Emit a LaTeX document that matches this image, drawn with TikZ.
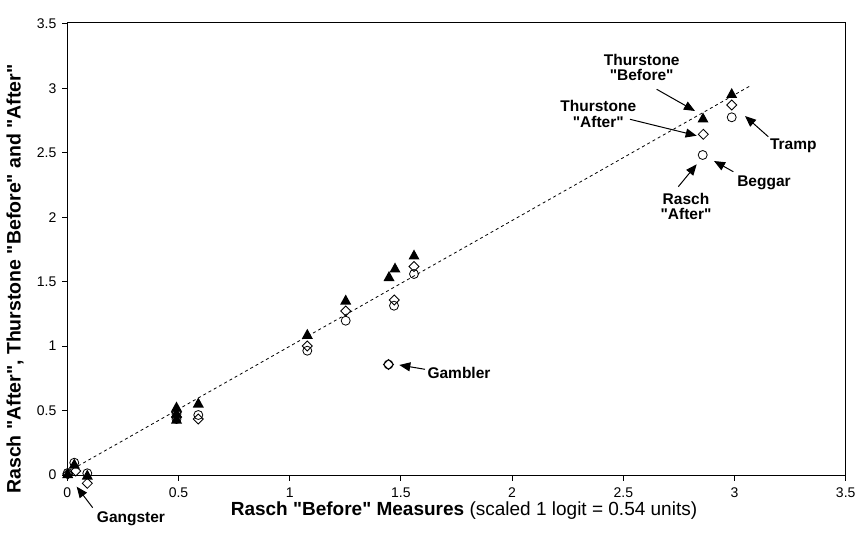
\documentclass[tikz,border=0pt]{standalone}
\usepackage{fontspec}
\newfontfamily\arial{Liberation Sans}
\usetikzlibrary{arrows.meta}
\tikzset{
  frame/.style={line width=1pt},
  tickline/.style={line width=1pt},
  ticklab/.style={inner sep=0pt,font=\arial\fontsize{14}{16}\selectfont},
  annot/.style={inner sep=0pt,align=center,font=\arial\fontsize{15.5}{15.5}\selectfont\bfseries},
  pointer/.style={line width=1pt,-{Triangle[length=11pt,width=9pt]}},
  trend/.style={line width=0.8pt,dash pattern=on 3pt off 3pt},
  tri/.pic={\fill[black] (0,-5.5) -- (5.5,4.5) -- (-5.5,4.5) -- cycle;},
  dia/.pic={\draw[line width=0.8pt] (0,-5) -- (5,0) -- (0,5) -- (-5,0) -- cycle;},
  circ/.pic={\draw[line width=0.8pt] (0,0) circle (4.5pt);}
}
\begin{document}
\begin{tikzpicture}[x=1pt,y=-1pt]
\useasboundingbox (0,0) rectangle (857,540);
% frame
\draw[frame] (67.3,23) rectangle (845.5,475);
% ticks and labels
\foreach \v/\t in {0/0,0.5/0.5,1/1,1.5/1.5,2/2,2.5/2.5,3/3,3.5/3.5}{
  \pgfmathsetmacro{\py}{475-\v*128.9}
  \pgfmathsetmacro{\px}{67.3+\v*222.4}
  \draw[tickline] (62,\py) -- (67.3,\py);
  \draw[tickline] (\px,475) -- (\px,480.5);
  \node[ticklab,anchor=east] (yl\t) at (56.5,\py) {\t};
  \node[ticklab] (xl\t) at (\px,493) {\t};
}
% axis titles
\node[inner sep=0pt,anchor=base,font=\arial\fontsize{19}{19}\selectfont] (xtitle) at (464,515)
  {\textbf{Rasch "Before" Measures} (scaled 1 logit = 0.54 units)};
\node[inner sep=0pt,anchor=base,rotate=90,font=\arial\fontsize{19.5}{19.5}\selectfont\bfseries] (ytitle) at (20.5,279)
  {Rasch "After", Thurstone "Before" and "After"};
% trend line
\coordinate (t0) at (78,466);
\coordinate (t1) at (750,86);
\draw[trend] (t0) -- (t1);
% Thurstone "Before" (filled triangles)
\foreach \p in {(67.7,473.5),(74.3,464),(87.3,475),(176.5,407),(176.5,413),(176.5,419),
  (198.3,403),(307.3,334.3),(345.7,300),(389,276.5),(395,268),(414,255),(703,118),(731.7,93.5)}
  \pic at \p {tri};
% Thurstone "After" (diamonds)
\foreach \p in {(67.7,474),(75.7,471),(87.3,483.3),(176.5,412),(176.5,417),(198.3,419),
  (307.3,346),(345.7,311),(394.3,300),(414,266.5),(388.5,364.5),(703.3,134.3),(731.7,105)}
  \pic at \p {dia};
% Rasch "After" (circles)
\foreach \p in {(67.7,473),(74.3,462.7),(87.3,473.3),(176.5,414),(176.5,419),(198.3,415),
  (307.3,350.7),(345.7,320.7),(394,305.7),(414,274),(388.5,364.5),(702.7,155),(731.7,117.3)}
  \pic at \p {circ};
% annotations
\node[annot] (thb) at (641.7,67.5) {Thurstone\\"Before"};
\node[annot] (tha) at (598.3,114) {Thurstone\\"After"};
\node[annot] (tramp) at (793.3,146) {Tramp};
\node[annot] (beggar) at (764,183.3) {Beggar};
\node[annot] (rascha) at (686,206.7) {Rasch\\"After"};
\node[annot] (gambler) at (459,373) {Gambler};
\node[annot] (gangster) at (131,519) {Gangster};
% arrow ends
\coordinate (thbS) at (656.7,89.3);   \coordinate (thbE) at (695,111);
\coordinate (thaS) at (630,119.3);    \coordinate (thaE) at (696.7,135.7);
\coordinate (trS) at (768.3,136.7);   \coordinate (trE) at (745,116);
\coordinate (beS) at (733.3,171.7);   \coordinate (beE) at (714,161);
\coordinate (raS) at (678.3,186.7);   \coordinate (raE) at (696.7,164.3);
\coordinate (gaS) at (425,369.3);     \coordinate (gaE) at (399.3,365);
\coordinate (gnS) at (92.7,507.7);    \coordinate (gnE) at (76.7,486.7);
\draw[pointer] (thbS) -- (thbE);
\draw[pointer] (thaS) -- (thaE);
\draw[pointer] (trS) -- (trE);
\draw[pointer] (beS) -- (beE);
\draw[pointer] (raS) -- (raE);
\draw[pointer] (gaS) -- (gaE);
\draw[pointer] (gnS) -- (gnE);
\end{tikzpicture}
\end{document}
